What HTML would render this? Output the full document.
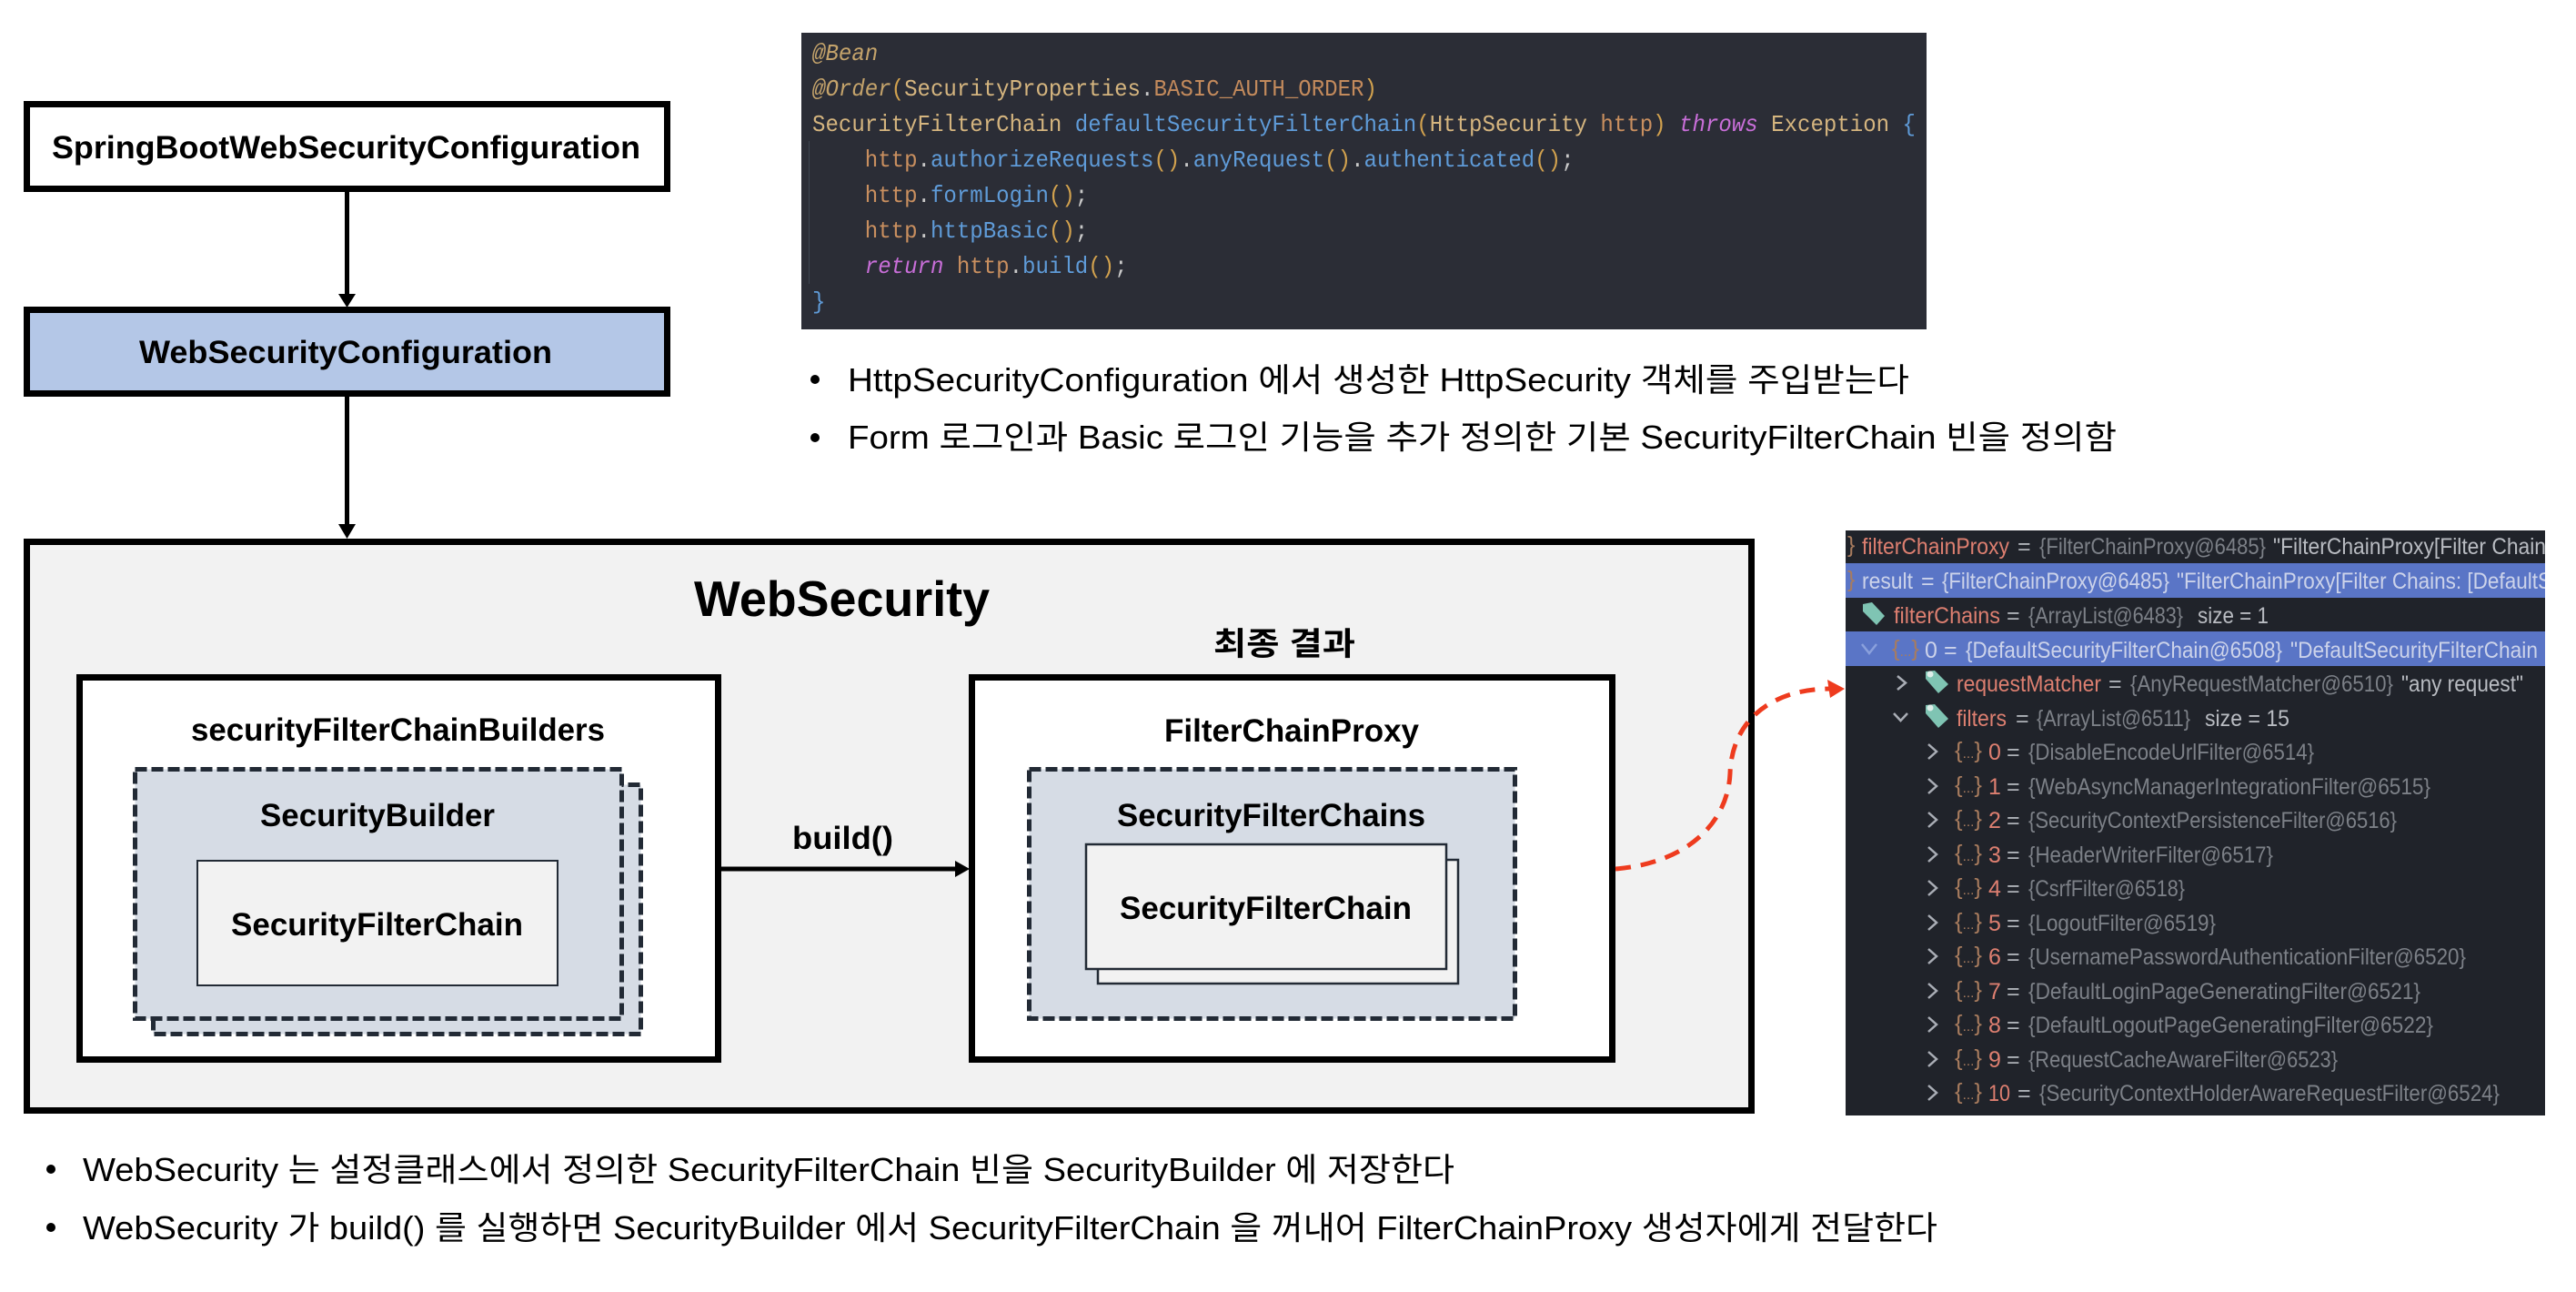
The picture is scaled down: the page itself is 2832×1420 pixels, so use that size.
<!DOCTYPE html>
<html lang="ko">
<head>
<meta charset="utf-8">
<title>WebSecurity diagram</title>
<style>
html,body{margin:0;padding:0;background:#fff;width:2832px;height:1420px;overflow:hidden}
svg{display:block;position:absolute;left:0;top:0}
text{font-family:"Liberation Sans","Noto Sans CJK KR",sans-serif;white-space:pre}
.b{font-weight:700;font-size:35px;fill:#000}
.r{font-size:36px;fill:#000}
.code text{font-family:"Liberation Mono",monospace;font-size:26px}
.dbg text{font-size:25px}
.dbg text.o{font-size:25px}
.o tspan{font-size:15px}
.n{fill:#dd7f70}.g{fill:#7c8087}.e{fill:#aeb2b8}.w{fill:#b9bcc2}.o{fill:#a87c5e}
.s .n,.s .g,.s .e,.s .w{fill:#ccd3ea}
.ch{fill:none;stroke:#a9adb5;stroke-width:2.5}
</style>
</head>
<body>
<svg width="2832" height="1420" viewBox="0 0 2832 1420" xmlns="http://www.w3.org/2000/svg">
<defs>
<clipPath id="dc"><rect x="2029" y="583" width="769" height="643"/></clipPath>
</defs>
<rect width="2832" height="1420" fill="#fff"/>

<!-- Top boxes -->
<rect x="29.5" y="114.5" width="704" height="93" fill="#fff" stroke="#000" stroke-width="7"/>
<text class="b" x="57" y="174" textLength="647" lengthAdjust="spacingAndGlyphs">SpringBootWebSecurityConfiguration</text>
<rect x="29.5" y="340.5" width="704" height="92" fill="#b4c7e7" stroke="#000" stroke-width="7"/>
<text class="b" x="153" y="399" textLength="454" lengthAdjust="spacingAndGlyphs">WebSecurityConfiguration</text>

<!-- vertical arrows -->
<rect x="379" y="211" width="5" height="114" fill="#000"/>
<polygon points="372,323 391,323 381.5,338" fill="#000"/>
<rect x="379" y="436" width="5" height="142" fill="#000"/>
<polygon points="372,576 391,576 381.5,592" fill="#000"/>

<!-- WebSecurity big box -->
<rect x="29.5" y="595.5" width="1896" height="625" fill="#f2f2f2" stroke="#000" stroke-width="7"/>
<text x="763" y="677" font-weight="700" font-size="55" textLength="325" lengthAdjust="spacingAndGlyphs">WebSecurity</text>
<text class="b" x="1334" y="720" textLength="156" lengthAdjust="spacingAndGlyphs">최종 결과</text>

<!-- left inner -->
<rect x="87.5" y="744.5" width="702" height="420" fill="#fff" stroke="#000" stroke-width="7"/>
<text class="b" x="210" y="814" textLength="455" lengthAdjust="spacingAndGlyphs">securityFilterChainBuilders</text>
<rect x="168.5" y="862.5" width="536" height="274" fill="#d6dce5" stroke="#222a35" stroke-width="5" stroke-dasharray="13 5"/>
<rect x="148.5" y="845.5" width="535" height="274" fill="#d6dce5" stroke="#222a35" stroke-width="5" stroke-dasharray="13 5"/>
<text class="b" x="286" y="908" textLength="258" lengthAdjust="spacingAndGlyphs">SecurityBuilder</text>
<rect x="217" y="946" width="396" height="137" fill="#f2f2f2" stroke="#222a35" stroke-width="2"/>
<text class="b" x="254" y="1028" textLength="321" lengthAdjust="spacingAndGlyphs">SecurityFilterChain</text>

<!-- build arrow -->
<rect x="793" y="952.5" width="260" height="5" fill="#000"/>
<polygon points="1050,946 1050,964 1066,955" fill="#000"/>
<text class="b" x="871" y="933" textLength="111" lengthAdjust="spacingAndGlyphs">build()</text>

<!-- right inner -->
<rect x="1068.5" y="744.5" width="704" height="420" fill="#fff" stroke="#000" stroke-width="7"/>
<text class="b" x="1280" y="815" textLength="280" lengthAdjust="spacingAndGlyphs">FilterChainProxy</text>
<rect x="1131.5" y="845.5" width="534" height="274" fill="#d6dce5" stroke="#222a35" stroke-width="5" stroke-dasharray="13 5"/>
<text class="b" x="1228" y="908" textLength="339" lengthAdjust="spacingAndGlyphs">SecurityFilterChains</text>
<rect x="1207" y="945" width="396" height="136" fill="#f2f2f2" stroke="#222a35" stroke-width="2.5"/>
<rect x="1194" y="928" width="396" height="137" fill="#f2f2f2" stroke="#222a35" stroke-width="2.5"/>
<text class="b" x="1231" y="1010" textLength="321" lengthAdjust="spacingAndGlyphs">SecurityFilterChain</text>

<!-- red dashed connector -->
<path d="M1776,955 C1860,948 1900,900 1902,850 C1904,790 1950,757 2012,757" fill="none" stroke="#ee3b1e" stroke-width="5" stroke-dasharray="17 11"/>
<polygon points="2009,747 2028,757 2012,767" fill="#ee3b1e"/>

<!-- Code block -->
<rect x="881" y="36" width="1237" height="326" fill="#2b2d36"/>
<rect x="889" y="155" width="1" height="157" fill="#3d4450"/>
<g class="code" transform="translate(893,0) scale(.9257,1)">
<text y="66" font-style="italic" fill="#c4a36b">@Bean</text>
<text y="105"><tspan font-style="italic" fill="#c4a36b">@Order</tspan><tspan fill="#d1a14e">(</tspan><tspan fill="#d5b57f">SecurityProperties</tspan><tspan fill="#c9c9c9">.</tspan><tspan fill="#c38a5c">BASIC_AUTH_ORDER</tspan><tspan fill="#d1a14e">)</tspan></text>
<text y="144"><tspan fill="#d5b57f">SecurityFilterChain </tspan><tspan fill="#5f9bd8">defaultSecurityFilterChain</tspan><tspan fill="#d1a14e">(</tspan><tspan fill="#d5b57f">HttpSecurity </tspan><tspan fill="#c98f5f">http</tspan><tspan fill="#d1a14e">)</tspan><tspan> </tspan><tspan font-style="italic" fill="#c86ed8">throws</tspan><tspan> </tspan><tspan fill="#d5b57f">Exception </tspan><tspan fill="#5f9bd8">{</tspan></text>
<text y="183"><tspan>    </tspan><tspan fill="#c98f5f">http</tspan><tspan fill="#c9c9c9">.</tspan><tspan fill="#5f9bd8">authorizeRequests</tspan><tspan fill="#d1a14e">()</tspan><tspan fill="#c9c9c9">.</tspan><tspan fill="#5f9bd8">anyRequest</tspan><tspan fill="#d1a14e">()</tspan><tspan fill="#c9c9c9">.</tspan><tspan fill="#5f9bd8">authenticated</tspan><tspan fill="#d1a14e">()</tspan><tspan fill="#c9c9c9">;</tspan></text>
<text y="222"><tspan>    </tspan><tspan fill="#c98f5f">http</tspan><tspan fill="#c9c9c9">.</tspan><tspan fill="#5f9bd8">formLogin</tspan><tspan fill="#d1a14e">()</tspan><tspan fill="#c9c9c9">;</tspan></text>
<text y="261"><tspan>    </tspan><tspan fill="#c98f5f">http</tspan><tspan fill="#c9c9c9">.</tspan><tspan fill="#5f9bd8">httpBasic</tspan><tspan fill="#d1a14e">()</tspan><tspan fill="#c9c9c9">;</tspan></text>
<text y="300"><tspan>    </tspan><tspan font-style="italic" fill="#c86ed8">return </tspan><tspan fill="#c98f5f">http</tspan><tspan fill="#c9c9c9">.</tspan><tspan fill="#5f9bd8">build</tspan><tspan fill="#d1a14e">()</tspan><tspan fill="#c9c9c9">;</tspan></text>
<text y="339" fill="#5f9bd8">}</text>
</g>

<!-- Top bullets -->
<circle cx="896" cy="417" r="5" fill="#000"/>
<text class="r" x="932" y="430" textLength="1167" lengthAdjust="spacingAndGlyphs">HttpSecurityConfiguration 에서 생성한 HttpSecurity 객체를 주입받는다</text>
<circle cx="896" cy="481" r="5" fill="#000"/>
<text class="r" x="932" y="493" textLength="1395" lengthAdjust="spacingAndGlyphs">Form 로그인과 Basic 로그인 기능을 추가 정의한 기본 SecurityFilterChain 빈을 정의함</text>

<!-- Bottom bullets -->
<circle cx="56" cy="1285" r="5" fill="#000"/>
<text class="r" x="91" y="1298" textLength="1508" lengthAdjust="spacingAndGlyphs">WebSecurity 는 설정클래스에서 정의한 SecurityFilterChain 빈을 SecurityBuilder 에 저장한다</text>
<circle cx="56" cy="1349" r="5" fill="#000"/>
<text class="r" x="91" y="1362" textLength="2039" lengthAdjust="spacingAndGlyphs">WebSecurity 가 build() 를 실행하면 SecurityBuilder 에서 SecurityFilterChain 을 꺼내어 FilterChainProxy 생성자에게 전달한다</text>

<!-- Debugger panel -->
<rect x="2029" y="583" width="769" height="643" fill="#20232a"/>
<g class="dbg" clip-path="url(#dc)">
<rect x="2029" y="619" width="769" height="38" fill="#5a75c6"/>
<rect x="2029" y="694" width="769" height="38" fill="#5a75c6"/>

<!-- row 0 -->
<text class="o" x="2031" y="607">}</text>
<text class="n" x="2047" y="609" textLength="162" lengthAdjust="spacingAndGlyphs">filterChainProxy</text>
<text class="e" x="2218" y="609">=</text>
<text class="g" x="2242" y="609" textLength="249" lengthAdjust="spacingAndGlyphs">{FilterChainProxy@6485}</text>
<text class="w" x="2499" y="609" textLength="300" lengthAdjust="spacingAndGlyphs">"FilterChainProxy[Filter Chain</text>

<!-- row 1 -->
<g class="s">
<text class="o" x="2031" y="645">}</text>
<text class="n" x="2047" y="647" textLength="56" lengthAdjust="spacingAndGlyphs">result</text>
<text class="e" x="2112" y="647">=</text>
<text class="g" x="2135" y="647" textLength="250" lengthAdjust="spacingAndGlyphs">{FilterChainProxy@6485}</text>
<text class="w" x="2393" y="647" textLength="412" lengthAdjust="spacingAndGlyphs">"FilterChainProxy[Filter Chains: [DefaultS</text>
</g>

<!-- row 2 -->
<path d="M2048,664 L2058,662 L2072,677 L2063,687 L2048,672 Z" fill="#7fc4b3"/>
<text class="n" x="2082" y="685" textLength="117" lengthAdjust="spacingAndGlyphs">filterChains</text>
<text class="e" x="2206" y="685">=</text>
<text class="g" x="2230" y="685" textLength="170" lengthAdjust="spacingAndGlyphs">{ArrayList@6483}</text>
<text class="w" x="2416" y="685" textLength="78" lengthAdjust="spacingAndGlyphs">size = 1</text>

<!-- row 3 -->
<path d="M2047,708 L2055,718 L2063,708" fill="none" stroke="#8aa0dc" stroke-width="2.5"/>
<g class="s">
<text class="o" x="2080" y="721" textLength="30" lengthAdjust="spacingAndGlyphs">{<tspan>...</tspan>}</text>
<text class="n" x="2116" y="723">0</text>
<text class="e" x="2137" y="723">=</text>
<text class="g" x="2161" y="723" textLength="348" lengthAdjust="spacingAndGlyphs">{DefaultSecurityFilterChain@6508}</text>
<text class="w" x="2518" y="723" textLength="272" lengthAdjust="spacingAndGlyphs">"DefaultSecurityFilterChain</text>
</g>

<!-- row 4 -->
<path class="ch" d="M2086,743 L2095,750.5 L2086,758"/>
<path d="M2117,738 L2127,737 L2142,752 L2131,762 L2117,746 Z" fill="#7fc4b3"/>
<circle cx="2122" cy="741" r="3.5" fill="#dfeeea"/>
<text class="n" x="2151" y="760" textLength="159" lengthAdjust="spacingAndGlyphs">requestMatcher</text>
<text class="e" x="2318" y="760">=</text>
<text class="g" x="2342" y="760" textLength="289" lengthAdjust="spacingAndGlyphs">{AnyRequestMatcher@6510}</text>
<text class="w" x="2640" y="760" textLength="134" lengthAdjust="spacingAndGlyphs">"any request"</text>

<!-- row 5 -->
<path class="ch" d="M2082,784 L2089.5,792 L2097,784"/>
<path d="M2117,775 L2127,774 L2142,790 L2131,800 L2117,784 Z" fill="#7fc4b3"/>
<circle cx="2122" cy="778" r="3.5" fill="#dfeeea"/>
<text class="n" x="2151" y="798" textLength="55" lengthAdjust="spacingAndGlyphs">filters</text>
<text class="e" x="2216" y="798">=</text>
<text class="g" x="2239" y="798" textLength="169" lengthAdjust="spacingAndGlyphs">{ArrayList@6511}</text>
<text class="w" x="2424" y="798" textLength="93" lengthAdjust="spacingAndGlyphs">size = 15</text>

<!-- filter rows -->
<path class="ch" d="M2120,818 L2129,826 L2120,834"/><text class="o" x="2149" y="833" textLength="30" lengthAdjust="spacingAndGlyphs">{<tspan>...</tspan>}</text><text class="n" x="2186" y="835">0</text><text class="e" x="2206" y="835">=</text><text class="g" x="2230" y="835" textLength="314" lengthAdjust="spacingAndGlyphs">{DisableEncodeUrlFilter@6514}</text>
<path class="ch" d="M2120,856 L2129,864 L2120,872"/><text class="o" x="2149" y="871" textLength="30" lengthAdjust="spacingAndGlyphs">{<tspan>...</tspan>}</text><text class="n" x="2186" y="873">1</text><text class="e" x="2206" y="873">=</text><text class="g" x="2230" y="873" textLength="442" lengthAdjust="spacingAndGlyphs">{WebAsyncManagerIntegrationFilter@6515}</text>
<path class="ch" d="M2120,893 L2129,901 L2120,909"/><text class="o" x="2149" y="908" textLength="30" lengthAdjust="spacingAndGlyphs">{<tspan>...</tspan>}</text><text class="n" x="2186" y="910">2</text><text class="e" x="2206" y="910">=</text><text class="g" x="2230" y="910" textLength="405" lengthAdjust="spacingAndGlyphs">{SecurityContextPersistenceFilter@6516}</text>
<path class="ch" d="M2120,931 L2129,939 L2120,947"/><text class="o" x="2149" y="946" textLength="30" lengthAdjust="spacingAndGlyphs">{<tspan>...</tspan>}</text><text class="n" x="2186" y="948">3</text><text class="e" x="2206" y="948">=</text><text class="g" x="2230" y="948" textLength="269" lengthAdjust="spacingAndGlyphs">{HeaderWriterFilter@6517}</text>
<path class="ch" d="M2120,968 L2129,976 L2120,984"/><text class="o" x="2149" y="983" textLength="30" lengthAdjust="spacingAndGlyphs">{<tspan>...</tspan>}</text><text class="n" x="2186" y="985">4</text><text class="e" x="2206" y="985">=</text><text class="g" x="2230" y="985" textLength="172" lengthAdjust="spacingAndGlyphs">{CsrfFilter@6518}</text>
<path class="ch" d="M2120,1006 L2129,1014 L2120,1022"/><text class="o" x="2149" y="1021" textLength="30" lengthAdjust="spacingAndGlyphs">{<tspan>...</tspan>}</text><text class="n" x="2186" y="1023">5</text><text class="e" x="2206" y="1023">=</text><text class="g" x="2230" y="1023" textLength="206" lengthAdjust="spacingAndGlyphs">{LogoutFilter@6519}</text>
<path class="ch" d="M2120,1043 L2129,1051 L2120,1059"/><text class="o" x="2149" y="1058" textLength="30" lengthAdjust="spacingAndGlyphs">{<tspan>...</tspan>}</text><text class="n" x="2186" y="1060">6</text><text class="e" x="2206" y="1060">=</text><text class="g" x="2230" y="1060" textLength="481" lengthAdjust="spacingAndGlyphs">{UsernamePasswordAuthenticationFilter@6520}</text>
<path class="ch" d="M2120,1081 L2129,1089 L2120,1097"/><text class="o" x="2149" y="1096" textLength="30" lengthAdjust="spacingAndGlyphs">{<tspan>...</tspan>}</text><text class="n" x="2186" y="1098">7</text><text class="e" x="2206" y="1098">=</text><text class="g" x="2230" y="1098" textLength="431" lengthAdjust="spacingAndGlyphs">{DefaultLoginPageGeneratingFilter@6521}</text>
<path class="ch" d="M2120,1118 L2129,1126 L2120,1134"/><text class="o" x="2149" y="1133" textLength="30" lengthAdjust="spacingAndGlyphs">{<tspan>...</tspan>}</text><text class="n" x="2186" y="1135">8</text><text class="e" x="2206" y="1135">=</text><text class="g" x="2230" y="1135" textLength="445" lengthAdjust="spacingAndGlyphs">{DefaultLogoutPageGeneratingFilter@6522}</text>
<path class="ch" d="M2120,1156 L2129,1164 L2120,1172"/><text class="o" x="2149" y="1171" textLength="30" lengthAdjust="spacingAndGlyphs">{<tspan>...</tspan>}</text><text class="n" x="2186" y="1173">9</text><text class="e" x="2206" y="1173">=</text><text class="g" x="2230" y="1173" textLength="340" lengthAdjust="spacingAndGlyphs">{RequestCacheAwareFilter@6523}</text>
<path class="ch" d="M2120,1193 L2129,1201 L2120,1209"/><text class="o" x="2149" y="1208" textLength="30" lengthAdjust="spacingAndGlyphs">{<tspan>...</tspan>}</text><text class="n" x="2186" y="1210" textLength="24" lengthAdjust="spacingAndGlyphs">10</text><text class="e" x="2218" y="1210">=</text><text class="g" x="2242" y="1210" textLength="506" lengthAdjust="spacingAndGlyphs">{SecurityContextHolderAwareRequestFilter@6524}</text>
</g>
</svg>
</body>
</html>
